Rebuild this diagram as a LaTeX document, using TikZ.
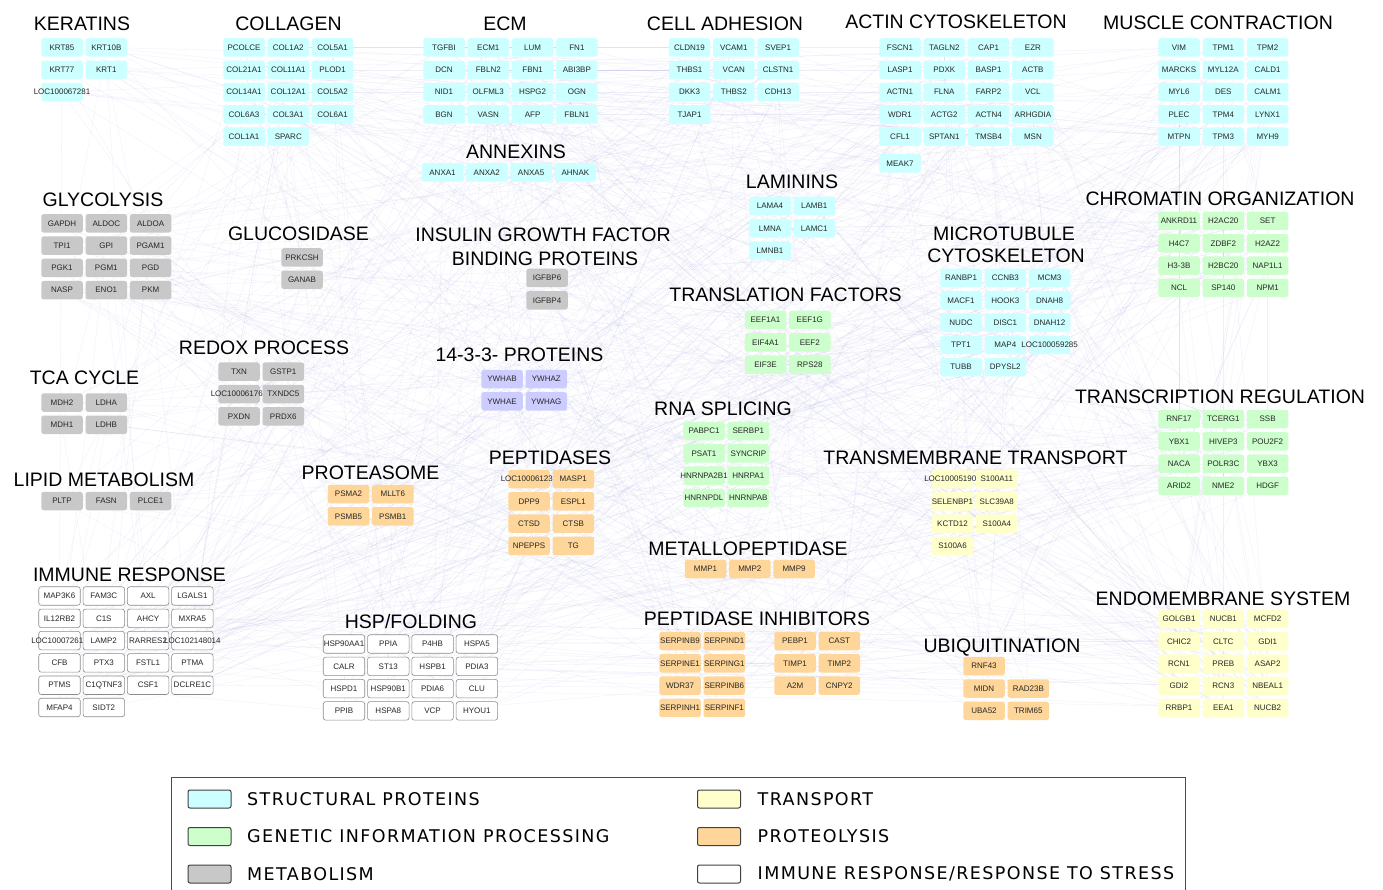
\documentclass[tikz,border=0pt]{standalone}
\usepackage{fontspec}
\setmainfont{Liberation Sans}
\newfontfamily\legendfont{DejaVu Sans}[LetterSpace=8]
\usetikzlibrary{positioning,backgrounds}

\definecolor{structcol}{RGB}{204,255,255}
\definecolor{geneticcol}{RGB}{204,255,204}
\definecolor{metabcol}{RGB}{200,200,200}
\definecolor{transpcol}{RGB}{255,255,204}
\definecolor{proteocol}{RGB}{255,214,153}
\definecolor{ywhacol}{RGB}{204,204,255}
\definecolor{edgecol}{RGB}{150,150,225}

\newcounter{gene}
\def\colstep{44.3}
\def\rowstep{22.3}

\tikzset{%
  gene/.style        = {shape=rectangle, rounded corners=2.5pt, inner sep=0pt,%
                        minimum width=41.5pt, minimum height=18.5pt,%
                        text=black!85, font=\fontsize{8}{8}\selectfont},%
  structural/.style  = {gene, fill=structcol},%
  genetic/.style     = {gene, fill=geneticcol},%
  metabolic/.style   = {gene, fill=metabcol},%
  transport/.style   = {gene, fill=transpcol},%
  proteolytic/.style = {gene, fill=proteocol},%
  adaptor/.style     = {gene, fill=ywhacol},%
  immune/.style      = {gene, fill=white, draw=black!45, line width=0.6pt},%
  grouptitle/.style  = {anchor=base, inner sep=0pt, font=\fontsize{19.5}{19.5}\selectfont},%
  netedge/.style     = {draw=edgecol, line width=0.3pt, opacity=0.15},%
  swatch/.style      = {shape=rectangle, rounded corners=2pt, draw=black!75,%
                        line width=1pt, minimum width=43pt, minimum height=18pt},%
  legendtext/.style  = {anchor=west, inner sep=0pt, font=\legendfont\fontsize{17.5}{17.5}\selectfont}%
}

% one block of gene boxes, filled row by row
\newcommand{\geneblock}[5]{%
  \foreach \gname [count=\gi from 0] in {#5}{%
    \pgfmathtruncatemacro{\gcol}{mod(\gi,#4)}%
    \pgfmathtruncatemacro{\grw}{div(\gi,#4)}%
    \stepcounter{gene}%
    \node[#1, alias=g\arabic{gene}] (\gname) at ({#2+\gcol*\colstep},{#3+\grw*\rowstep}) {\makebox[0pt]{\gname}};%
  }}

\begin{document}
\begin{tikzpicture}[x=1pt,y=-1pt]
\useasboundingbox (0,0) rectangle (1383,890);

% group titles
\node[grouptitle] (keratins) at (82,31) {KERATINS};
\node[grouptitle] (collagen) at (288.5,31) {COLLAGEN};
\node[grouptitle] (ecm) at (505,31) {ECM};
\node[grouptitle] (celladhesion) at (725,31) {CELL ADHESION};
\node[grouptitle] (actin) at (956,28.5) {ACTIN CYTOSKELETON};
\node[grouptitle] (muscle) at (1218,29.5) {MUSCLE CONTRACTION};
\node[grouptitle] (annexins) at (516,159) {ANNEXINS};
\node[grouptitle] (laminins) at (792,189) {LAMININS};
\node[grouptitle] (glycolysis) at (103,206.5) {GLYCOLYSIS};
\node[grouptitle] (chromatin) at (1220,206) {CHROMATIN ORGANIZATION};
\node[grouptitle] (glucosidase) at (298.5,240.5) {GLUCOSIDASE};
\node[grouptitle] (igfbp) at (543,241.5) {INSULIN GROWTH FACTOR};
\node[grouptitle] (igfbpb) at (545,265.5) {BINDING PROTEINS};
\node[grouptitle] (microtub) at (1004,241) {MICROTUBULE};
\node[grouptitle] (microtubb) at (1006,262.5) {CYTOSKELETON};
\node[grouptitle] (translation) at (785.5,302) {TRANSLATION FACTORS};
\node[grouptitle] (redox) at (264,354) {REDOX PROCESS};
\node[grouptitle] (ywha) at (519.5,361.5) {14-3-3- PROTEINS};
\node[grouptitle] (tca) at (84.5,384) {TCA CYCLE};
\node[grouptitle] (transcription) at (1220,403) {TRANSCRIPTION REGULATION};
\node[grouptitle] (splicing) at (723,415) {RNA SPLICING};
\node[grouptitle] (peptidases) at (550,464) {PEPTIDASES};
\node[grouptitle] (transmembrane) at (975.5,464) {TRANSMEMBRANE TRANSPORT};
\node[grouptitle] (proteasome) at (370.5,479) {PROTEASOME};
\node[grouptitle] (lipid) at (104,486) {LIPID METABOLISM};
\node[grouptitle] (metallo) at (748,555) {METALLOPEPTIDASE};
\node[grouptitle] (immune) at (129.5,581.5) {IMMUNE RESPONSE};
\node[grouptitle] (endomembrane) at (1223,605) {ENDOMEMBRANE SYSTEM};
\node[grouptitle] (inhibitors) at (757,625) {PEPTIDASE INHIBITORS};
\node[grouptitle] (hsp) at (411,628) {HSP/FOLDING};
\node[grouptitle] (ubiquitination) at (1002,652.5) {UBIQUITINATION};

% structural proteins
\geneblock{structural}{62}{47.5}{2}{KRT85,KRT10B,KRT77,KRT1,LOC100067281}
\geneblock{structural}{244}{47.5}{3}{PCOLCE,COL1A2,COL5A1,COL21A1,COL11A1,PLOD1,COL14A1,COL12A1,COL5A2,COL6A3,COL3A1,COL6A1,COL1A1,SPARC}
\geneblock{structural}{444}{47.5}{4}{TGFBI,ECM1,LUM,FN1,DCN,FBLN2,FBN1,ABI3BP,NID1,OLFML3,HSPG2,OGN,BGN,VASN,AFP,FBLN1}
\geneblock{structural}{689.5}{47.5}{3}{CLDN19,VCAM1,SVEP1,THBS1,VCAN,CLSTN1,DKK3,THBS2,CDH13,TJAP1}
\geneblock{structural}{900}{47.5}{4}{FSCN1,TAGLN2,CAP1,EZR,LASP1,PDXK,BASP1,ACTB,ACTN1,FLNA,FARP2,VCL,WDR1,ACTG2,ACTN4,ARHGDIA,CFL1,SPTAN1,TMSB4,MSN}
\geneblock{structural}{900}{163.5}{1}{MEAK7}
\geneblock{structural}{1179}{47.5}{3}{VIM,TPM1,TPM2,MARCKS,MYL12A,CALD1,MYL6,DES,CALM1,PLEC,TPM4,LYNX1,MTPN,TPM3,MYH9}
\geneblock{structural}{442.5}{172.5}{4}{ANXA1,ANXA2,ANXA5,AHNAK}
\geneblock{structural}{770}{206}{2}{LAMA4,LAMB1,LMNA,LAMC1,LMNB1}
\geneblock{structural}{961}{278}{3}{RANBP1,CCNB3,MCM3,MACF1,HOOK3,DNAH8,NUDC,DISC1,DNAH12,TPT1,MAP4,LOC100059285,TUBB,DPYSL2}

% metabolism
\geneblock{metabolic}{62}{223.3}{3}{GAPDH,ALDOC,ALDOA,TPI1,GPI,PGAM1,PGK1,PGM1,PGD,NASP,ENO1,PKM}
\geneblock{metabolic}{302}{257.5}{1}{PRKCSH,GANAB}
\geneblock{metabolic}{547}{278}{1}{IGFBP6,IGFBP4}
\geneblock{metabolic}{239}{371.7}{2}{TXN,GSTP1,LOC100061769,TXNDC5,PXDN,PRDX6}
\geneblock{metabolic}{62}{402.5}{2}{MDH2,LDHA,MDH1,LDHB}
\geneblock{metabolic}{62}{501}{3}{PLTP,FASN,PLCE1}
\geneblock{adaptor}{502}{379}{2}{YWHAB,YWHAZ,YWHAE,YWHAG}

% genetic information processing
\geneblock{genetic}{1179}{221}{3}{ANKRD11,H2AC20,SET,H4C7,ZDBF2,H2AZ2,H3-3B,H2BC20,NAP1L1,NCL,SP140,NPM1}
\geneblock{genetic}{765.5}{320}{2}{EEF1A1,EEF1G,EIF4A1,EEF2,EIF3E,RPS28}
\geneblock{genetic}{704}{431}{2}{PABPC1,SERBP1,PSAT1,SYNCRIP,HNRNPA2B1,HNRPA1,HNRNPDL,HNRNPAB}
\geneblock{genetic}{1179}{419}{3}{RNF17,TCERG1,SSB,YBX1,HIVEP3,POU2F2,NACA,POLR3C,YBX3,ARID2,NME2,HDGF}

% transport
\geneblock{transport}{952.5}{479}{2}{LOC100051903,S100A11,SELENBP1,SLC39A8,KCTD12,S100A4,S100A6}
\geneblock{transport}{1179}{619}{3}{GOLGB1,NUCB1,MCFD2,CHIC2,CLTC,GDI1,RCN1,PREB,ASAP2,GDI2,RCN3,NBEAL1,RRBP1,EEA1,NUCB2}

% proteolysis
\geneblock{proteolytic}{348.5}{494}{2}{PSMA2,MLLT6,PSMB5,PSMB1}
\geneblock{proteolytic}{529}{479}{2}{LOC100061234,MASP1,DPP9,ESPL1,CTSD,CTSB,NPEPPS,TG}
\geneblock{proteolytic}{705.5}{569}{3}{MMP1,MMP2,MMP9}
\geneblock{proteolytic}{680}{641}{2}{SERPINB9,SERPIND1,SERPINE1,SERPING1,WDR37,SERPINB6,SERPINH1,SERPINF1}
\geneblock{proteolytic}{795}{641}{2}{PEBP1,CAST,TIMP1,TIMP2,A2M,CNPY2}
\geneblock{proteolytic}{984}{666}{1}{RNF43}
\geneblock{proteolytic}{984}{688.5}{2}{MIDN,RAD23B,UBA52,TRIM65}

% immune response / response to stress
\geneblock{immune}{59.5}{596}{4}{MAP3K6,FAM3C,AXL,LGALS1,IL12RB2,C1S,AHCY,MXRA5,LOC100072612,LAMP2,RARRES2,LOC102148014,CFB,PTX3,FSTL1,PTMA,PTMS,C1QTNF3,CSF1,DCLRE1C,MFAP4,SIDT2}
\geneblock{immune}{344}{644}{4}{HSP90AA1,PPIA,P4HB,HSPA5,CALR,ST13,HSPB1,PDIA3,HSPD1,HSP90B1,PDIA6,CLU,PPIB,HSPA8,VCP,HYOU1}

% interaction network behind the boxes
\begin{scope}[on background layer]
  \fill[white] (0,0) rectangle (1383,890);
  \pgfmathsetseed{4711}
  \edef\ngenes{\arabic{gene}}
  \foreach \k in {1,...,900}{%
    \pgfmathtruncatemacro{\ea}{random(1,\ngenes)}%
    \pgfmathtruncatemacro{\eb}{random(1,\ngenes)}%
    \ifnum\ea=\eb\else\draw[netedge] (g\ea) -- (g\eb);\fi
  }
\end{scope}

% legend
\node[draw=black!70, line width=0.8pt, anchor=north west, inner sep=0pt,
      minimum width=1014pt, minimum height=140pt] (legend) at (171,777) {};
\node[swatch, fill=structcol] (swstruct) at (209.5,799) {};
\node[legendtext, right=15.5pt of swstruct] (ltstruct) {STRUCTURAL PROTEINS};
\node[swatch, fill=geneticcol] (swgenetic) at (209.5,836.5) {};
\node[legendtext, right=15.5pt of swgenetic] (ltgenetic) {GENETIC INFORMATION PROCESSING};
\node[swatch, fill=metabcol] (swmetab) at (209.5,874) {};
\node[legendtext, right=15.5pt of swmetab] (ltmetab) {METABOLISM};
\node[swatch, fill=transpcol] (swtransp) at (719,799) {};
\node[legendtext, right=16.5pt of swtransp] (lttransp) {TRANSPORT};
\node[swatch, fill=proteocol] (swproteo) at (719,836.5) {};
\node[legendtext, right=16.5pt of swproteo] (ltproteo) {PROTEOLYSIS};
\node[swatch, fill=white] (swimmune) at (719,874) {};
\node[legendtext, right=16.5pt of swimmune] (ltimmune) {IMMUNE RESPONSE/RESPONSE TO STRESS};
\end{tikzpicture}
\end{document}
